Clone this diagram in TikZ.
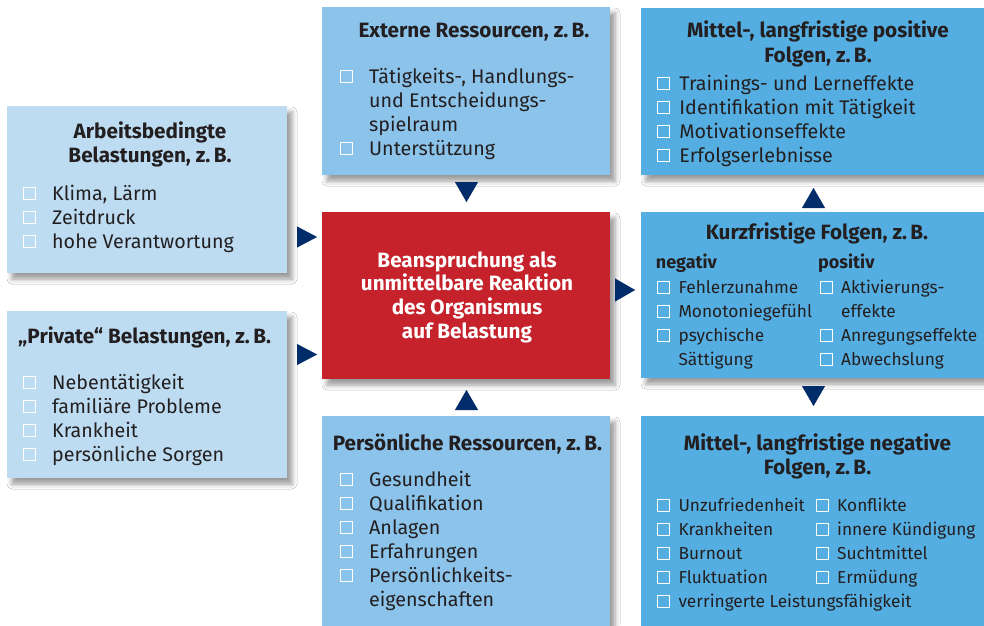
\documentclass[tikz,border=0pt]{standalone}
\usepackage{fontspec}
\setmainfont{Fira Sans}
\usetikzlibrary{arrows.meta,shadows.blur}
\definecolor{lightbox}{HTML}{BDDCF2}
\definecolor{midbox}{HTML}{8CC3EA}
\definecolor{darkbox}{HTML}{55AEE1}
\definecolor{redbox}{HTML}{C5222C}
\definecolor{arrowc}{HTML}{002D6A}
\definecolor{txt}{HTML}{231F20}
\newcommand\cbx{\tikz[baseline=0pt]\draw[white,line width=0.9pt] (0.45pt,0.45pt) rectangle (12.55pt,12.55pt);}
\begin{document}
\begin{tikzpicture}[x=1pt,y=-1pt,
  box/.style={rectangle,inner sep=0pt,outer sep=0pt,anchor=north west,
    blur shadow={shadow xshift=5pt,shadow yshift=-6pt,shadow blur radius=5pt,shadow opacity=40}},
  title/.style={inner sep=0pt,text=txt,font=\fontsize{20.7}{24.7}\selectfont\bfseries},
  lst/.style={inner sep=0pt,text=txt,anchor=base west,font=\fontsize{19.7}{24}\selectfont},
  lsts/.style={inner sep=0pt,text=txt,anchor=base west,font=\fontsize{17.3}{24}\selectfont},
  tri/.style={draw=arrowc,fill=arrowc,line width=0.1pt,-{Triangle[length=20pt,width=23pt]}}
]
\useasboundingbox (0,0) rectangle (984,625);
\fill[white] (0,0) rectangle (984,625);
% boxes
\node[box,fill=lightbox,minimum width=280,minimum height=167] (lt) at (7,106) {};
\node[box,fill=lightbox,minimum width=280,minimum height=167] (lb) at (7,311) {};
\node[box,fill=midbox,minimum width=288,minimum height=168] (ext) at (322,7) {};
\node[box,fill=redbox,minimum width=288,minimum height=167] (red) at (322,212) {};
\node[box,fill=midbox,minimum width=288,minimum height=215] (pers) at (322,416) {};
\node[box,fill=darkbox,minimum width=350,minimum height=167] (pos) at (641,8) {};
\node[box,fill=darkbox,minimum width=350,minimum height=166] (kurz) at (641,212) {};
\node[box,fill=darkbox,minimum width=350,minimum height=215] (neg) at (641,416) {};
% left top
\node[title,anchor=base] (ltT) at (150,138) {\begin{tabular}[t]{@{}c@{}}Arbeitsbedingte\\Belastungen, z.\,B.\end{tabular}};
\node[lst] (ltL) at (23,200) {\begin{tabular}[t]{@{}l@{\hspace{16pt}}l@{}}\cbx & Klima, Lärm\\ \cbx & Zeitdruck\\ \cbx & hohe Verantwortung\end{tabular}};
% left bottom
\node[title,anchor=base west] (lbT) at (18,343) {„Private“ Belastungen, z.\,B.};
\node[lst] (lbL) at (23,389) {\begin{tabular}[t]{@{}l@{\hspace{16pt}}l@{}}\cbx & Nebentätigkeit\\ \cbx & familiäre Probleme\\ \cbx & Krankheit\\ \cbx & persönliche Sorgen\end{tabular}};
% external resources
\node[title,anchor=base] (extT) at (474,37) {Externe Ressourcen, z.\,B.};
\node[lst] (extL) at (339.5,83) {\begin{tabular}[t]{@{}l@{\hspace{16.5pt}}l@{}}\cbx & Tätigkeits-, Handlungs-\\ & und Entscheidungs-\\ & spielraum\\ \cbx & Unterstützung\end{tabular}};
% red
\node[inner sep=0pt,anchor=base,text=white,font=\fontsize{20.7}{23.7}\selectfont\bfseries] (redT) at (467,267) {\begin{tabular}[t]{@{}c@{}}Beanspruchung als\\unmittelbare Reaktion\\des Organismus\\auf Belastung\end{tabular}};
% personal resources
\node[title,anchor=base] (persT) at (467.5,450) {Persönliche Ressourcen, z.\,B.};
\node[lst] (persL) at (339.5,486) {\begin{tabular}[t]{@{}l@{\hspace{16.5pt}}l@{}}\cbx & Gesundheit\\ \cbx & Qualifikation\\ \cbx & Anlagen\\ \cbx & Erfahrungen\\ \cbx & Persönlichkeits-\\ & eigenschaften\end{tabular}};
% positive
\node[title,anchor=base,font=\fontsize{20.7}{25.4}\selectfont\bfseries] (posT) at (818,37.3) {\begin{tabular}[t]{@{}c@{}}Mittel-, langfristige positive\\Folgen, z.\,B.\end{tabular}};
\node[lst] (posL) at (656.7,90) {\begin{tabular}[t]{@{}l@{\hspace{9.5pt}}l@{}}\cbx & Trainings- und Lerneffekte\\ \cbx & Identifikation mit Tätigkeit\\ \cbx & Motivationseffekte\\ \cbx & Erfolgserlebnisse\end{tabular}};
% short term
\node[title,anchor=base] (kurzT) at (817,239.3) {Kurzfristige Folgen, z.\,B.};
\node[title,anchor=base west,font=\fontsize{18}{24}\selectfont\bfseries] (negH) at (655.7,268.5) {negativ};
\node[title,anchor=base west,font=\fontsize{18}{24}\selectfont\bfseries] (posH) at (818,268.5) {positiv};
\node[lsts] (kurzL) at (656.7,293.5) {\begin{tabular}[t]{@{}l@{\hspace{8.6pt}}l@{}}\cbx & Fehlerzunahme\\ \cbx & Monotoniegefühl\\ \cbx & psychische\\ & Sättigung\end{tabular}};
\node[lsts] (kurzR) at (820,293.5) {\begin{tabular}[t]{@{}l@{\hspace{8pt}}l@{}}\cbx & Aktivierungs-\\ & effekte\\ \cbx & Anregungseffekte\\ \cbx & Abwechslung\end{tabular}};
% negative
\node[title,anchor=base,font=\fontsize{20.7}{24}\selectfont\bfseries] (negT) at (817.5,450) {\begin{tabular}[t]{@{}c@{}}Mittel-, langfristige negative\\Folgen, z.\,B.\end{tabular}};
\node[lsts] (negL) at (656.7,511.7) {\begin{tabular}[t]{@{}l@{\hspace{8.6pt}}l@{}}\cbx & Unzufriedenheit\\ \cbx & Krankheiten\\ \cbx & Burnout\\ \cbx & Fluktuation\\ \cbx & verringerte Leistungsfähigkeit\end{tabular}};
\node[lsts] (negR) at (815.7,511.7) {\begin{tabular}[t]{@{}l@{\hspace{8.3pt}}l@{}}\cbx & Konflikte\\ \cbx & innere Kündigung\\ \cbx & Suchtmittel\\ \cbx & Ermüdung\end{tabular}};
% arrows
\draw[tri,-{Triangle[length=20pt,width=21pt]},shorten <=10pt,shorten >=5pt] (lt.east |- 0,237) -- (red.west |- 0,237);
\draw[tri,-{Triangle[length=20pt,width=21pt]},shorten <=10pt,shorten >=5pt] (lb.east |- 0,354.5) -- (red.west |- 0,354.5);
\draw[tri,shorten <=7pt,shorten >=10pt] (ext.south -| 466.5,0) -- (red.north -| 466.5,0);
\draw[tri,shorten <=7pt,shorten >=11pt] (pers.north -| 466.5,0) -- (red.south -| 466.5,0);
\draw[tri,shorten <=5pt,shorten >=6pt] (red.east |- 0,290) -- (kurz.west |- 0,290);
\draw[tri,shorten <=7pt,shorten >=13pt] (kurz.north -| 813.5,0) -- (pos.south -| 813.5,0);
\draw[tri,shorten <=9pt,shorten >=10pt] (kurz.south -| 813.5,0) -- (neg.north -| 813.5,0);
\end{tikzpicture}
\end{document}
